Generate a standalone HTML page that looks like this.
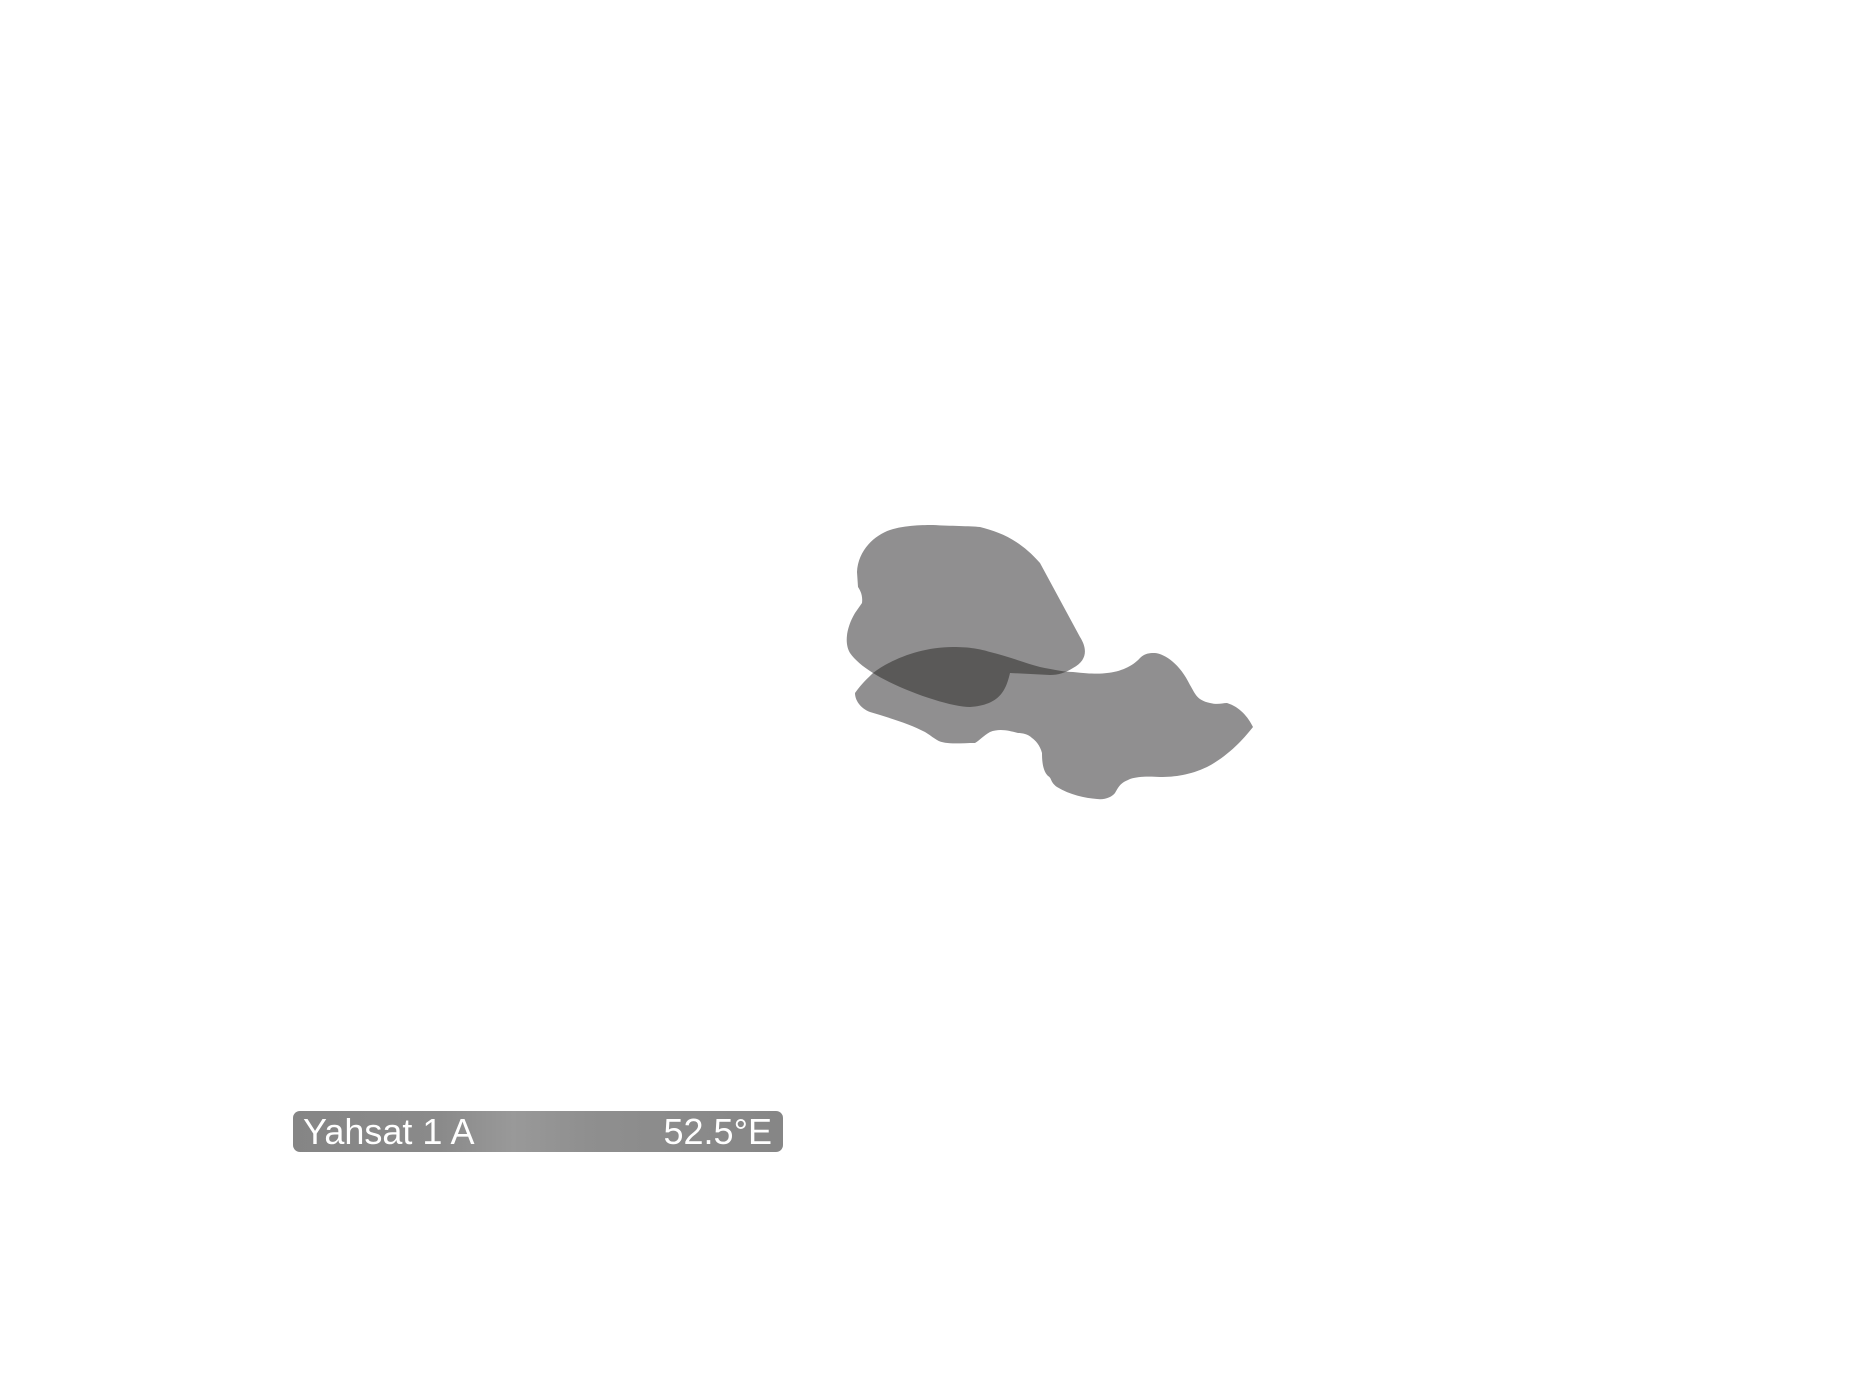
<!DOCTYPE html>
<html><head><meta charset="utf-8"><style>
html,body{margin:0;padding:0;background:#fff;width:1867px;height:1400px;overflow:hidden}
svg{position:absolute;left:0;top:0}
.lab{position:absolute;left:293px;top:1111px;width:490px;height:41px;border-radius:7px;background:linear-gradient(90deg,#858585 0%,#8a8a8a 30%,#999 45%,#8f8f8f 60%,#868686 100%);color:#fff;font-family:"Liberation Sans",sans-serif;font-size:36px;line-height:41px}
.lab .l{position:absolute;left:10px}
.lab .r{position:absolute;right:11px}
</style></head><body>
<svg width="1867" height="1400" viewBox="0 0 1867 1400">
<defs>
<path id="up" d="M857,572 C858,550 875,535 890,530 C905,525 925,525 933,525 C950,526 970,526 980,527 C1000,532 1020,540 1040,563 L1080,637 C1087,648 1088,660 1073,668 C1065,673 1058,675 1050,675 L1010,673 C1006,690 1000,705 970,707 C950,707 900,690 873,673 C862,666 855,660 850,653 C845,645 845,630 855,613 L862,603 C863,595 860,590 858,587 Z"/>
<path id="lo" d="M855,693 C862,683 868,678 873,673 C890,660 920,647 953,647 C970,647 980,649 990,652 C1010,657 1025,663 1040,667 C1055,670 1065,672 1073,672 C1090,674 1100,674 1107,673 C1120,672 1133,666 1140,658 C1145,653 1150,653 1155,653 C1165,654 1180,664 1190,685 C1195,693 1196,700 1210,703 C1218,705 1222,703 1227,703 C1240,707 1248,717 1253,727 C1245,737 1230,755 1207,767 C1190,775 1175,777 1160,777 C1145,776 1133,777 1128,780 C1120,783 1118,788 1115,793 C1112,797 1105,800 1097,799 C1085,798 1070,795 1057,787 C1050,782 1052,778 1048,776 C1043,771 1042,762 1042,753 C1040,745 1035,740 1032,738 C1028,734 1022,733 1018,733 C1010,731 1000,728 990,732 C983,736 980,740 975,743 C960,743 945,745 937,740 C932,737 930,735 925,732 C910,724 890,718 870,712 C860,708 855,700 855,693 Z"/>
<clipPath id="cu"><use href="#up"/></clipPath>
</defs>
<use href="#up" fill="#908f90"/>
<use href="#lo" fill="#908f90"/>
<use href="#lo" fill="#5a5958" clip-path="url(#cu)"/>
</svg>
<div class="lab"><span class="l">Yahsat 1 A</span><span class="r">52.5°E</span></div>
</body></html>
